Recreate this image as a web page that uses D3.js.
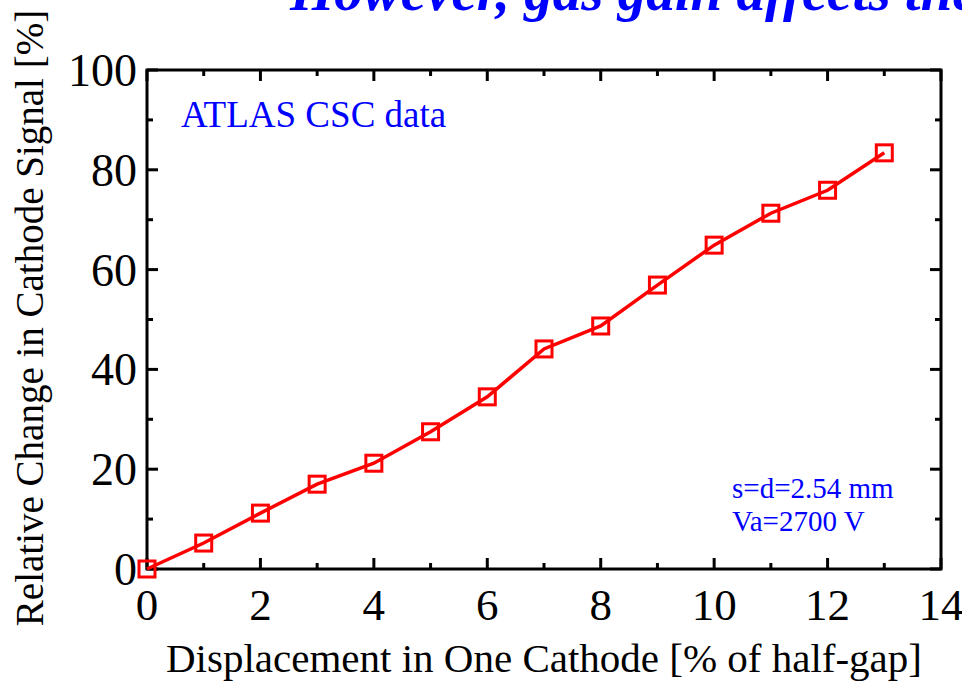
<!DOCTYPE html>
<meta charset="utf-8">
<head>
<style>
  * { margin: 0; padding: 0; }
  body { background: #fff; }
  svg { font-family: "Liberation Serif", "DejaVu Serif", serif; }
</style>
</head>
<body>
<svg id="chart" width="962" height="682"></svg>
<script src="https://cdn.jsdelivr.net/npm/d3@7"></script>
<script>
  // data
  var displacement = [0, 1, 2, 3, 4, 5, 6, 7, 8, 9, 10, 11, 12, 13];
  var signalChange = [0, 5.2, 11.2, 17.0, 21.2, 27.5, 34.5, 44.1, 48.7, 56.9, 64.9, 71.3, 75.9, 83.4];
  var xTicks = [0, 2, 4, 6, 8, 10, 12, 14];
  var yTicks = [0, 20, 40, 60, 80, 100];

  var svg = d3.select("#chart");
  var pLeft = 147, pRight = 941, pTop = 70, pBottom = 569;

  var x = d3.scaleLinear().domain([0, 14]).range([pLeft, pRight]);
  var y = d3.scaleLinear().domain([0, 100]).range([pBottom, pTop]);

  // title (cut off at top/right like the slide)
  svg.append("text")
    .attr("x", 290).attr("y", 10)
    .attr("fill", "#0000ff")
    .attr("font-size", 57).attr("font-weight", "bold").attr("font-style", "italic")
    .text("However, gas gain affects the");

  // ticks, inward on all four sides
  var ax = svg.append("g").attr("stroke", "#000").attr("stroke-width", 3);
  d3.range(0, 15, 1).forEach(function(v) {
    var len = v % 2 == 0 ? 11 : 6;
    ax.append("line").attr("x1", x(v)).attr("x2", x(v)).attr("y1", pBottom).attr("y2", pBottom - len);
    ax.append("line").attr("x1", x(v)).attr("x2", x(v)).attr("y1", pTop).attr("y2", pTop + len);
  });
  d3.range(0, 101, 10).forEach(function(v) {
    var len = v % 20 == 0 ? 11 : 6;
    ax.append("line").attr("y1", y(v)).attr("y2", y(v)).attr("x1", pLeft).attr("x2", pLeft + len);
    ax.append("line").attr("y1", y(v)).attr("y2", y(v)).attr("x1", pRight).attr("x2", pRight - len);
  });
  ax.append("rect")
    .attr("x", pLeft).attr("y", pTop)
    .attr("width", pRight - pLeft).attr("height", pBottom - pTop)
    .attr("fill", "none");

  // tick labels
  svg.selectAll(".xl").data(xTicks).enter().append("text")
    .attr("x", function(d) { return x(d); }).attr("y", 620)
    .attr("text-anchor", "middle").attr("font-size", 45)
    .text(function(d) { return d; });
  svg.selectAll(".yl").data(yTicks).enter().append("text")
    .attr("x", 137).attr("y", function(d) { return y(d) + 16; })
    .attr("text-anchor", "end").attr("font-size", 46)
    .text(function(d) { return d; });

  // axis titles
  svg.append("text")
    .attr("x", 544).attr("y", 672)
    .attr("text-anchor", "middle").attr("font-size", 41)
    .text("Displacement in One Cathode [% of half-gap]");
  svg.append("text")
    .attr("transform", "translate(43,318) rotate(-90)")
    .attr("text-anchor", "middle").attr("font-size", 39)
    .text("Relative Change in Cathode Signal [%]");

  // annotations
  svg.append("text").attr("x", 181).attr("y", 127)
    .attr("fill", "#0000ff").attr("font-size", 37).text("ATLAS CSC data");
  svg.append("text").attr("x", 732).attr("y", 498)
    .attr("fill", "#0000ff").attr("font-size", 29).text("s=d=2.54 mm");
  svg.append("text").attr("x", 732).attr("y", 531)
    .attr("fill", "#0000ff").attr("font-size", 29).text("Va=2700 V");

  // series
  var pts = displacement.map(function(d, i) { return [d, signalChange[i]]; });
  var line = d3.line().x(function(d) { return x(d[0]); }).y(function(d) { return y(d[1]); });
  svg.append("path").datum(pts)
    .attr("d", line)
    .attr("fill", "none").attr("stroke", "#ff0000").attr("stroke-width", 3.5);
  svg.selectAll(".mk").data(pts).enter().append("rect")
    .attr("x", function(d) { return x(d[0]) - 8; })
    .attr("y", function(d) { return y(d[1]) - 8; })
    .attr("width", 16).attr("height", 16)
    .attr("fill", "none").attr("stroke", "#ff0000").attr("stroke-width", 3);
</script>
</body>
